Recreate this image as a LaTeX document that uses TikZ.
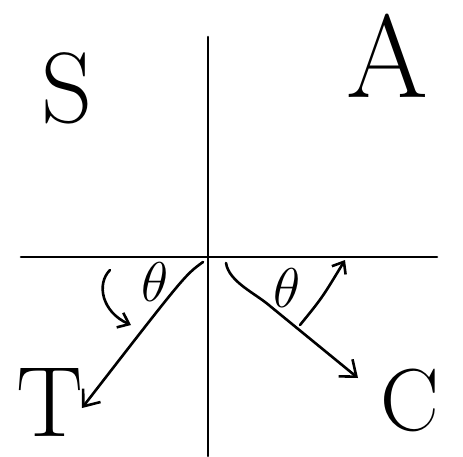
\RequirePackage{fix-cm}
\documentclass[tikz,border=0pt]{standalone}
\usetikzlibrary{arrows.meta}
\tikzset{every path/.style={black, line width=2.6pt, line cap=round},
  ray/.style={-{Straight Barb[length=14pt,width=22pt]}},
  turn/.style={-{Straight Barb[length=10pt,width=16pt]}},
  quadlabel/.style={inner sep=0pt, font=\fontsize{100}{100}\selectfont},
  anglelabel/.style={inner sep=0pt, font=\fontsize{56}{56}\selectfont}}

\begin{document}
\begin{tikzpicture}[x=1pt,y=-1pt]
  \useasboundingbox (0,0) rectangle (463,456);
  \begin{scope}
   % axes
   \coordinate (xl) at (21,257);
   \coordinate (xr) at (437,257);
   \coordinate (yt) at (208,37);
   \coordinate (yb) at (208,456);
   \draw (xl) -- (xr);
   \draw (yt) -- (yb);
   % quadrants
   \node[quadlabel] (S) at (67,88) {S};
   \node[quadlabel, font=\fontsize{118}{118}\selectfont] (A) at (387,56) {A};
   \node[quadlabel] (T) at (50,402) {T};
   \node[quadlabel, font=\fontsize{88}{88}\selectfont] (C) at (410,400) {C};
  \end{scope}
  \begin{scope}
   % ray into T
   \coordinate (Tstart) at (203,262);
   \coordinate (Tend) at (82,408);
   \draw[ray] (Tstart) .. controls (185,275) .. (Tend);
   \coordinate (Ta) at (110,270);
   \coordinate (Tb) at (131,325);
   \draw[turn] (Ta) .. controls (96,284) and (102,312) .. (Tb);
   \node[anglelabel] (thT) at (155,282) {$\theta$};
  \end{scope}
  \begin{scope}
   % ray into C
   \coordinate (Cstart) at (226,263);
   \coordinate (Cbend) at (270,306);
   \coordinate (Cend) at (358,378);
   \draw[ray] (Cstart) .. controls (229,282) and (255,293) .. (Cbend) -- (Cend);
   \coordinate (Ca) at (300,325);
   \coordinate (Cb) at (345,260);
   \draw[turn] (Ca) .. controls (322,298) .. (Cb);
   \node[anglelabel] (thC) at (287,288) {$\theta$};
  \end{scope}
\end{tikzpicture}
\end{document}
